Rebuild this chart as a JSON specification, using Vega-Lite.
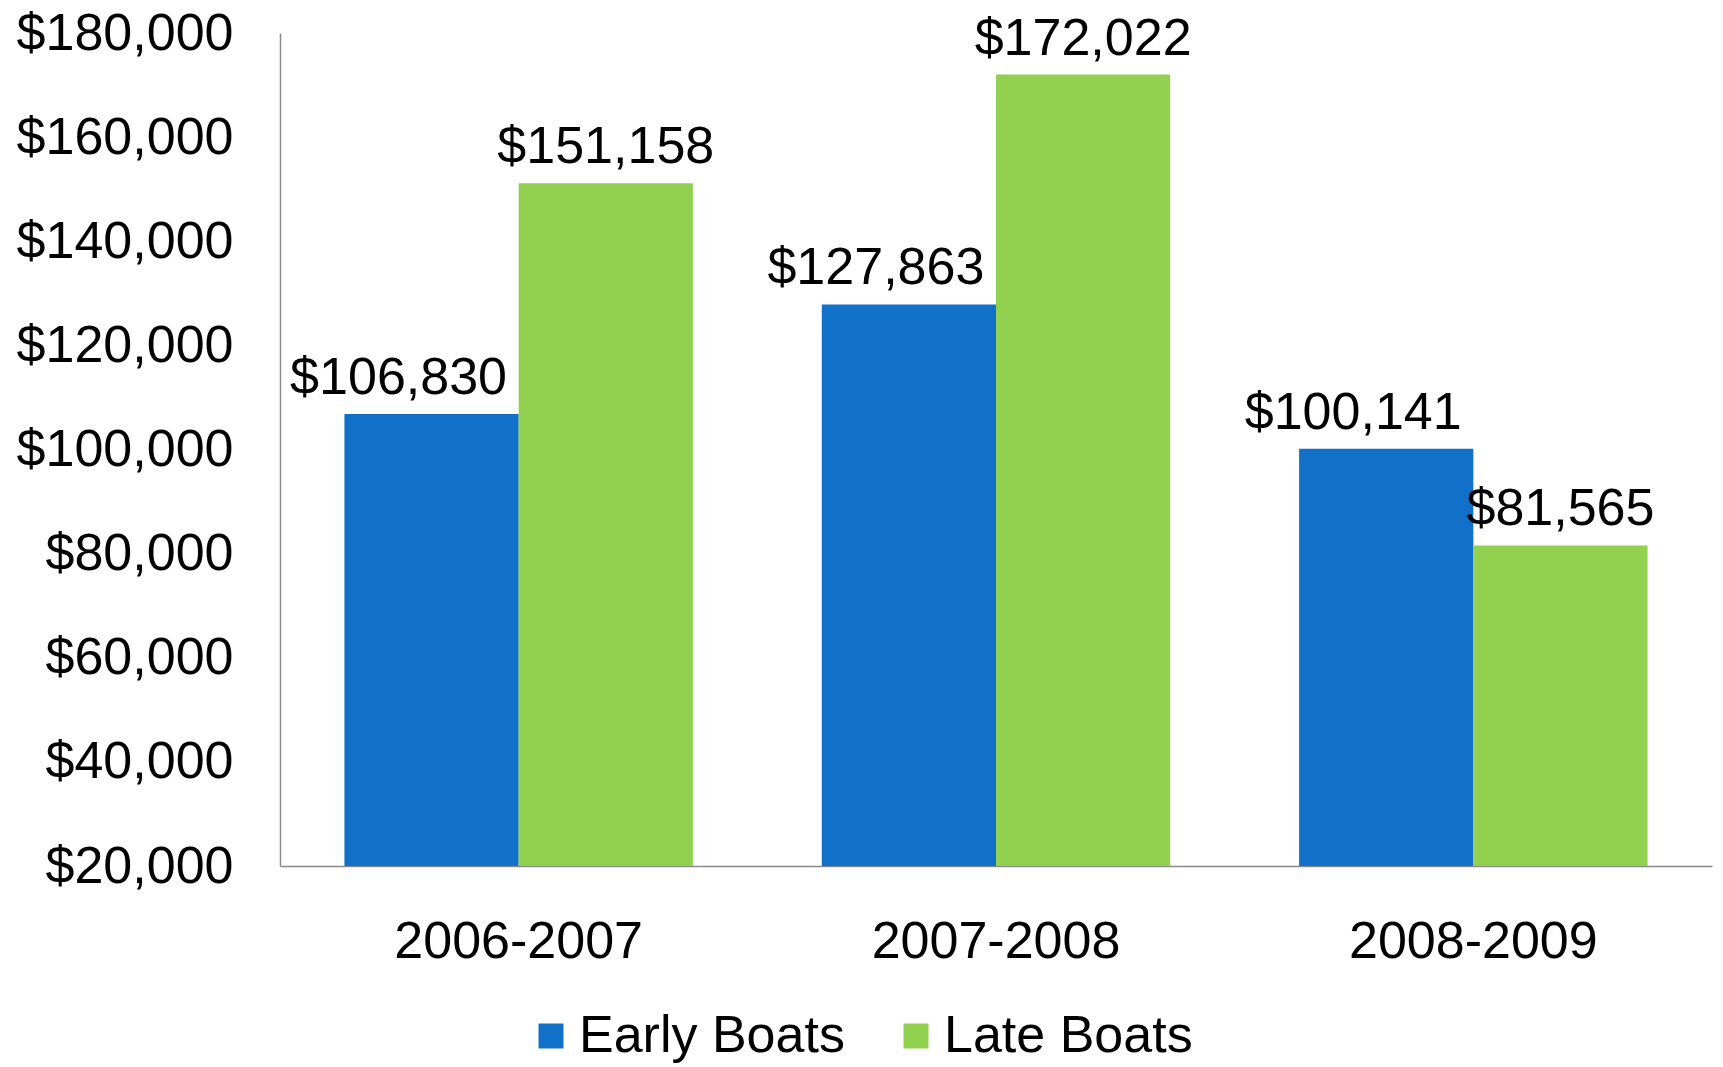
{
  "$schema": "https://vega.github.io/schema/vega-lite/v6.json",
  "autosize": "none",
  "width": 1432,
  "height": 833,
  "padding": {"left": 280, "top": 33, "right": 11, "bottom": 201},
  "background": "#ffffff",
  "config": {
    "font": "Liberation Sans",
    "view": {"stroke": null},
    "axis": {"labelFont": "Liberation Sans", "labelColor": "#000000", "labelFontSize": 52, "labelLimit": 0, "labelOverlap": false, "domainColor": "#8a8a8a", "domainWidth": 1.5, "grid": false, "ticks": false, "tickSize": 0, "title": null},
    "legend": {"labelFont": "Liberation Sans", "labelColor": "#000000", "labelFontSize": 52}
  },
  "data": {
    "values": [
      {"year": "2006-2007", "series": "Early Boats", "value": 106830},
      {"year": "2006-2007", "series": "Late Boats", "value": 151158},
      {"year": "2007-2008", "series": "Early Boats", "value": 127863},
      {"year": "2007-2008", "series": "Late Boats", "value": 172022},
      {"year": "2008-2009", "series": "Early Boats", "value": 100141},
      {"year": "2008-2009", "series": "Late Boats", "value": 81565}
    ]
  },
  "encoding": {
    "x": {"field": "year", "type": "nominal", "scale": {"paddingInner": 0.27, "paddingOuter": 0.135}, "axis": {"labelAngle": 0, "labelPadding": 50}},
    "xOffset": {"field": "series", "type": "nominal", "scale": {"paddingInner": 0, "paddingOuter": 0}},
    "y": {"field": "value", "type": "quantitative", "scale": {"domain": [20000, 180000], "nice": false, "zero": false, "clamp": true}, "axis": {"values": [20000, 40000, 60000, 80000, 100000, 120000, 140000, 160000, 180000], "format": "$,.0f", "labelPadding": 47}}
  },
  "layer": [
    {
      "mark": {"type": "bar"},
      "encoding": {
        "y2": {"datum": 20000},
        "color": {"field": "series", "type": "nominal", "scale": {"domain": ["Early Boats", "Late Boats"], "range": ["#1170c7", "#92d050"]}, "legend": {"title": null, "orient": "none", "direction": "horizontal", "legendX": 245, "legendY": 977, "symbolType": "square", "symbolSize": 625, "symbolStrokeWidth": 0, "labelOffset": 2, "columnPadding": 45, "labelLimit": 600}}
      }
    },
    {
      "transform": [{"filter": "datum.series == 'Early Boats'"}],
      "mark": {"type": "text", "baseline": "alphabetic", "dy": -20, "dx": -33, "fontSize": 52, "font": "Liberation Sans", "color": "#000000"},
      "encoding": {"text": {"field": "value", "type": "quantitative", "format": "$,.0f"}}
    },
    {
      "transform": [{"filter": "datum.series == 'Late Boats'"}],
      "mark": {"type": "text", "baseline": "alphabetic", "dy": -20, "fontSize": 52, "font": "Liberation Sans", "color": "#000000"},
      "encoding": {"text": {"field": "value", "type": "quantitative", "format": "$,.0f"}}
    }
  ]
}
